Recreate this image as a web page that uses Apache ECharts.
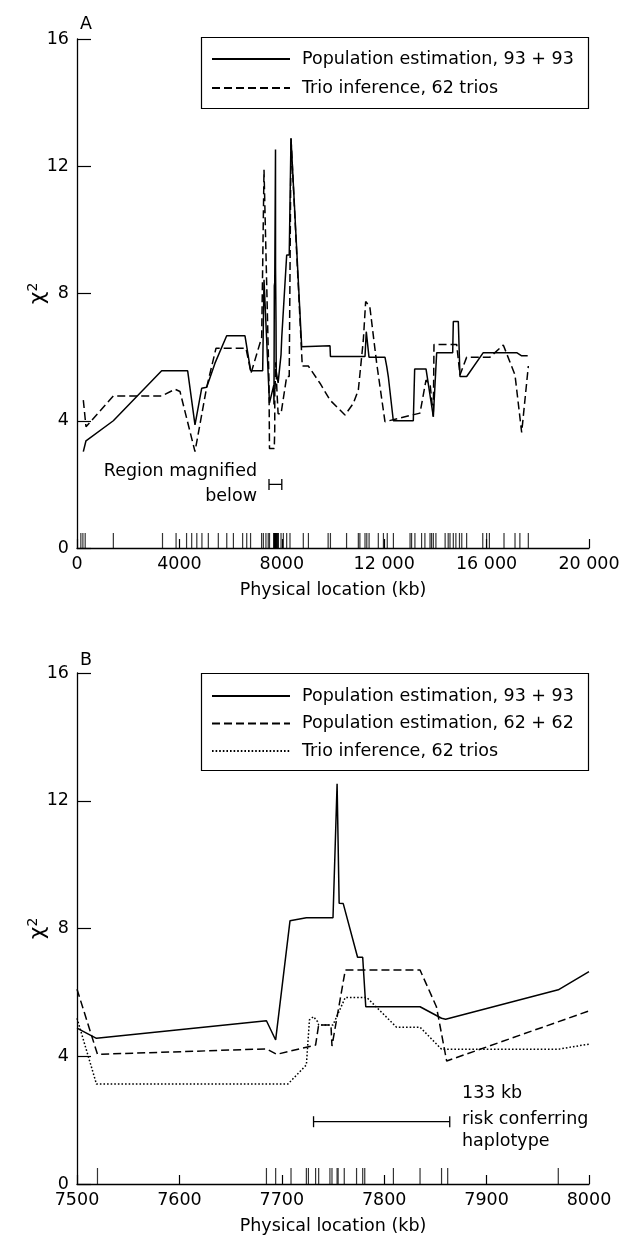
<!DOCTYPE html>
<html>
<head>
<meta charset="utf-8">
<script src="https://cdn.jsdelivr.net/npm/echarts/dist/echarts.min.js"></script>
<style>
  html, body { margin: 0; padding: 0; background: #fff; }
  #chart { width: 619px; height: 1236px; }
</style>
</head>
<body>
<div id="chart"></div>
<script>
// chi-square along the chromosome, panel A (whole region) and B (7500-8000 kb)
var FONT = 'DejaVu Sans';

// panel B, [kb, chi2]
var pop93Zoom = [[7500, 4.88], [7519, 4.56], [7685, 5.11], [7694, 4.51], [7708, 8.24], [7724, 8.34],
    [7750, 8.34], [7754, 12.53], [7756, 8.79], [7760, 8.78], [7774, 7.1], [7779, 7.1], [7782, 5.55],
    [7835, 5.55], [7856, 5.19], [7860, 5.16], [7970, 6.08], [8000, 6.65]];
var pop62Zoom = [[7500, 6.1], [7520, 4.06], [7685, 4.23], [7695, 4.06], [7733, 4.35], [7736, 4.98],
    [7748, 4.98], [7749, 4.32], [7762, 6.7], [7835, 6.7], [7851, 5.55], [7861, 3.85], [8000, 5.42]];
var trioZoom = [[7500, 5.19], [7519, 3.13], [7706, 3.13], [7724, 3.73], [7727, 5.14], [7731, 5.24],
    [7735, 5.08], [7736, 4.98], [7750, 4.98], [7762, 5.84], [7783, 5.84], [7812, 4.91], [7835, 4.91],
    [7856, 4.22], [7970, 4.22], [8000, 4.38]];

// panel A, outside the magnified region
var pop93Left = [[247, 3.03], [351, 3.37], [1419, 4.0], [3307, 5.57], [4323, 5.57], [4609, 3.87],
    [4870, 5.02], [5065, 5.05], [5390, 5.81], [5847, 6.67], [6562, 6.67], [6784, 5.57], [7253, 5.57],
    [7305, 8.43]];
var pop93Right = [[8191, 9.21], [8290, 9.21], [8359, 12.88], [8777, 6.33], [9883, 6.36], [9900, 6.02],
    [11250, 6.02], [11300, 6.8], [11406, 6.0], [12030, 6.0], [12100, 5.7], [12160, 5.39], [12356, 4.0],
    [13137, 4.0], [13190, 5.63], [13633, 5.63], [13919, 4.13], [14050, 6.14], [14675, 6.14], [14700, 7.12],
    [14895, 7.12], [14960, 5.39], [15222, 5.39], [15870, 6.14], [17175, 6.14], [17370, 6.04], [17605, 6.04]];
var trioLeft = [[247, 4.65], [351, 3.81], [1419, 4.78], [3307, 4.78], [3828, 4.99], [4023, 4.92],
    [4609, 3.03], [5065, 5.05], [5430, 6.28], [6600, 6.28], [6800, 5.5], [7214, 6.62], [7305, 11.89]];
var trioRight = [[8191, 5.39], [8290, 5.39], [8359, 12.88], [8800, 5.72], [9036, 5.72], [9492, 5.18],
    [9883, 4.65], [10468, 4.18], [10795, 4.55], [10990, 4.97], [11185, 6.54], [11276, 7.75], [11380, 7.65],
    [11445, 7.54], [11706, 5.81], [12030, 3.97], [13398, 4.24], [13633, 5.28], [13800, 5.1], [13919, 4.13],
    [13945, 6.4], [14831, 6.4], [14960, 5.44], [15222, 6.0], [16132, 6.0], [16652, 6.38], [17109, 5.44],
    [17370, 3.63], [17630, 5.72]];

// marker positions (kb)
var markersZoom = [7520, 7685, 7694, 7709, 7724, 7726, 7733, 7736, 7747, 7749, 7754, 7755, 7761, 7773,
    7779, 7781, 7809, 7835, 7856, 7862, 7970];
var markersLeft = [150, 230, 320, 1420, 3340, 3870, 4280, 4480, 4680, 4880, 5130, 5520, 5850, 6110,
    6470, 6630, 6780, 7210, 7280, 7380, 7470];
var markersRight = [8060, 8190, 8320, 8840, 9040, 9810, 9900, 10530, 10990, 11050, 11250, 11320, 11410,
    11770, 11970, 12120, 12360, 13010, 13070, 13200, 13460, 13590, 13790, 13850, 13920, 14020, 14380,
    14500, 14570, 14700, 14800, 14940, 15030, 15220, 15850, 16000, 16110, 16680, 17110, 17300, 17630];

// brackets
var bracketA = [[7500, 2], [8000, 2]];
var bracketB = [[7731, 1.95], [7864, 1.95]];

var pop93A = pop93Left.concat(pop93Zoom, pop93Right);
var trioA = trioLeft.concat(trioZoom, trioRight);
var markersA = markersLeft.concat(markersZoom, markersRight);

var chart = echarts.init(document.getElementById('chart'), null, { renderer: 'canvas' });

function txt(size) {
    return { color: '#000', fontFamily: FONT, fontSize: size || 17.5 };
}

function xAx(idx, min, max, step, fmt) {
    return {
        type: 'value', gridIndex: idx, min: min, max: max, interval: step,
        name: 'Physical location (kb)', nameLocation: 'middle', nameGap: 33,
        nameTextStyle: txt(),
        axisLine: { lineStyle: { color: '#000', width: 1.3 } },
        axisTick: { inside: true, length: 9, lineStyle: { color: '#000', width: 1.2 } },
        axisLabel: Object.assign({ margin: 7, formatter: fmt }, txt()),
        splitLine: { show: false }
    };
}
function yAx(idx) {
    return {
        type: 'value', gridIndex: idx, min: 0, max: 16, interval: 4,
        name: '{c|χ}{s|2}', nameLocation: 'middle', nameGap: 27, nameRotate: 90,
        nameMoveOverlap: false,
        nameTextStyle: {
            rich: {
                c: { fontFamily: FONT, fontSize: 22, color: '#000', lineHeight: 24 },
                s: { fontFamily: FONT, fontSize: 14, color: '#000', verticalAlign: 'top' }
            }
        },
        axisLine: { show: true, lineStyle: { color: '#000', width: 1.3 } },
        axisTick: { show: true, inside: true, length: 14, lineStyle: { color: '#000', width: 1.2 } },
        axisLabel: Object.assign({ margin: 8 }, txt()),
        splitLine: { show: false }
    };
}
function curve(name, idx, data, dash) {
    return {
        name: name, type: 'line', xAxisIndex: idx, yAxisIndex: idx, data: data,
        symbol: 'none', silent: true, z: 3,
        itemStyle: { color: '#000' },
        lineStyle: { color: '#000', width: 1.5, type: dash }
    };
}
function rug(idx, list, h) {
    return {
        type: 'scatter', xAxisIndex: idx, yAxisIndex: idx, silent: true, z: 2,
        data: list.map(function (k) { return [k, 0]; }),
        symbol: 'rect', symbolSize: [1.2, h], symbolOffset: [0, '-50%'],
        itemStyle: { color: '#000' }
    };
}
function bracket(idx, data) {
    return {
        type: 'line', xAxisIndex: idx, yAxisIndex: idx, data: data, silent: true,
        symbol: 'rect', symbolSize: [1.3, 11], showSymbol: true,
        lineStyle: { color: '#000', width: 1.2 }, itemStyle: { color: '#000' }
    };
}
function thousands(v) {
    return v >= 10000 ? String(Math.floor(v / 1000)) + ' ' + String(v % 1000).padStart(3, '0') : String(v);
}
function plain(v) {
    return String(v);
}

var legendText = Object.assign({ lineHeight: 20, padding: [0, 0, 0, 7] }, txt());
var dash = [8, 4];

var option = {
    animation: false,
    backgroundColor: '#fff',
    grid: [
        { left: 77, top: 39, width: 512, height: 509, outerBoundsMode: 'none' },
        { left: 77, top: 673, width: 512, height: 511, outerBoundsMode: 'none' }
    ],
    xAxis: [xAx(0, 0, 20000, 4000, thousands), xAx(1, 7500, 8000, 100, plain)],
    yAxis: [yAx(0), yAx(1)],
    legend: [
        {
            orient: 'vertical', left: 211, top: 49, padding: 0, itemGap: 9,
            itemWidth: 78, itemHeight: 14, selectedMode: false,
            itemStyle: { opacity: 0 },
            data: ['A·Population estimation, 93 + 93', 'A·Trio inference, 62 trios'],
            formatter: function (n) { return n.slice(2); },
            textStyle: legendText
        },
        {
            orient: 'vertical', left: 211, top: 686, padding: 0, itemGap: 7.5,
            itemWidth: 78, itemHeight: 14, selectedMode: false,
            itemStyle: { opacity: 0 },
            data: ['B·Population estimation, 93 + 93', 'B·Population estimation, 62 + 62', 'B·Trio inference, 62 trios'],
            formatter: function (n) { return n.slice(2); },
            textStyle: legendText
        }
    ],
    graphic: [
        { type: 'rect', shape: { x: 201.5, y: 37.5, width: 387, height: 71 }, style: { fill: '#fff', stroke: '#000', lineWidth: 1.2 }, z: 0 },
        { type: 'rect', shape: { x: 201.5, y: 673.5, width: 387, height: 97 }, style: { fill: '#fff', stroke: '#000', lineWidth: 1.2 }, z: 0 },
        { type: 'text', left: 80, top: 15, style: Object.assign({ text: 'A' }, txt()) },
        { type: 'text', left: 80, top: 651, style: Object.assign({ text: 'B' }, txt()) },
        { type: 'text', right: 362, top: 462, style: Object.assign({ text: 'Region magnified', textAlign: 'right' }, txt()) },
        { type: 'text', right: 362, top: 487, style: Object.assign({ text: 'below', textAlign: 'right' }, txt()) },
        { type: 'text', left: 462, top: 1084, style: Object.assign({ text: '133 kb' }, txt()) },
        { type: 'text', left: 462, top: 1110, style: Object.assign({ text: 'risk conferring' }, txt()) },
        { type: 'text', left: 462, top: 1132, style: Object.assign({ text: 'haplotype' }, txt()) }
    ],
    series: [
        curve('A·Population estimation, 93 + 93', 0, pop93A, 'solid'),
        curve('A·Trio inference, 62 trios', 0, trioA, dash),
        rug(0, markersA, 15),
        bracket(0, bracketA),
        curve('B·Population estimation, 93 + 93', 1, pop93Zoom, 'solid'),
        curve('B·Population estimation, 62 + 62', 1, pop62Zoom, dash),
        curve('B·Trio inference, 62 trios', 1, trioZoom, [1.6, 2]),
        rug(1, markersZoom, 16),
        bracket(1, bracketB)
    ]
};

chart.setOption(option);
</script>
</body>
</html>
